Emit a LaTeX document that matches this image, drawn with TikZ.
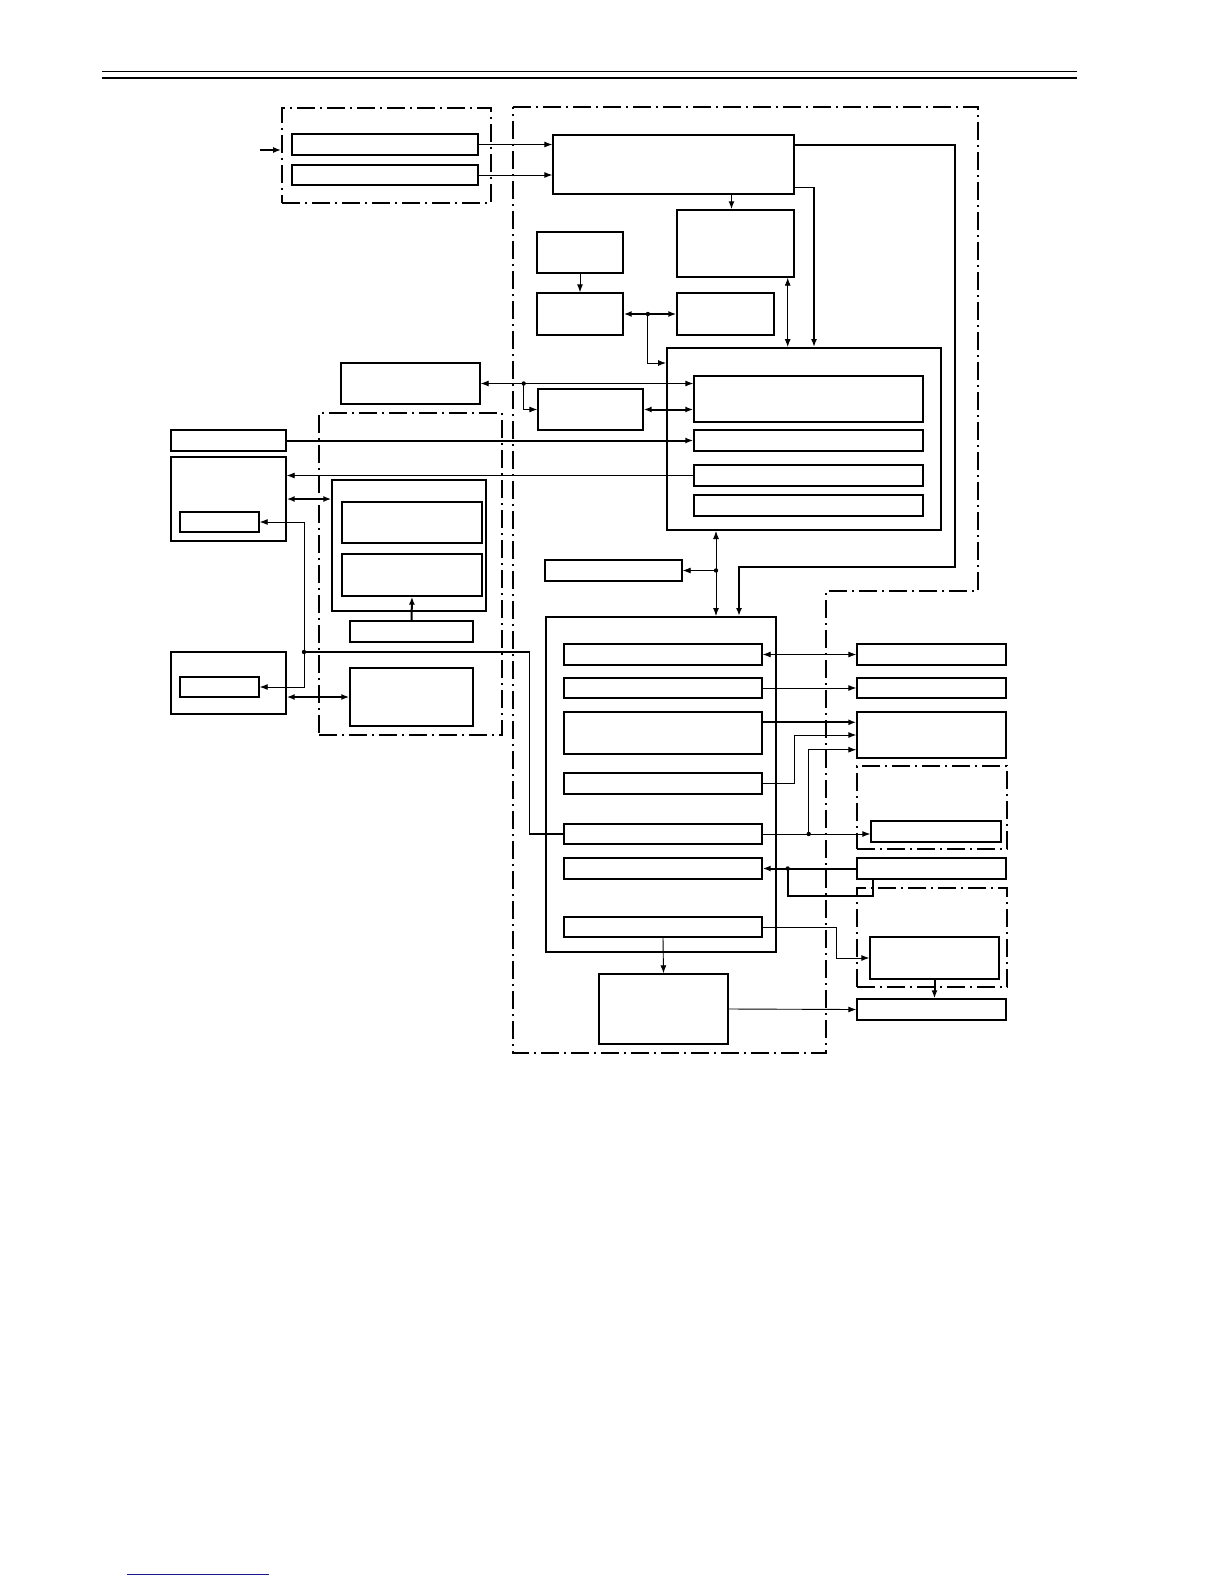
\documentclass[tikz,border=0pt]{standalone}
\usepackage{xcolor}
\usepackage{tikz}
\usetikzlibrary{arrows.meta, calc, fit}
\definecolor{linkblue}{RGB}{25,25,150}

\tikzset{
  blk/.style={draw, inner sep=0pt, line width=1.4pt},
  frame/.style={draw, inner sep=0pt, line width=2pt},
  dashdot/.style={line width=1.8pt, dash pattern=on 18pt off 5pt on 2pt off 5pt},
  grp/.style={draw, inner sep=0pt, dashdot},
  arr/.style={-{Latex[length=8pt,width=6pt]}, line width=0.9pt},
  dbl/.style={{Latex[length=8pt,width=6pt]}-{Latex[length=8pt,width=6pt]}, line width=0.9pt},
  heavy/.style={line width=2pt},
  medium/.style={line width=1.5pt}
}

\begin{document}
\begin{tikzpicture}[x=1pt, y=-1pt]
\useasboundingbox (0,0) rectangle (1224,1584);
% page rules
\draw[line width=1pt] (102,72) -- (1077,72);
\draw[line width=2.5pt] (102,78) -- (1077,78);
\draw[linkblue, line width=1pt] (127,1574) -- (269,1574);

% dash-dot regions
\draw[dashdot] (513,107) -- (978,107) -- (978,591) -- (826,591) -- (826,1053) -- (513,1053) -- cycle;
\node[grp, fit={(282,108) (491,203)}] (inbox) {};
\node[grp, fit={(319,413) (502,735)}] (midbox) {};
\node[grp, fit={(857,766) (1007,849)}] (sbox) {};
\node[grp, fit={(857,888) (1007,987)}] (tbox) {};

% blocks
\node[blk, fit={(292,134) (478,155)}] (a1) {};
\node[blk, fit={(292,165) (478,185)}] (a2) {};
\node[blk, fit={(553,135) (794,194)}] (b) {};
\node[blk, fit={(677,210) (794,277)}] (c) {};
\node[blk, fit={(537,232) (623,273)}] (d) {};
\node[blk, fit={(537,293) (623,335)}] (e) {};
\node[blk, fit={(677,293) (774,335)}] (f) {};
\node[frame, fit={(667,348) (941,530)}] (h) {};
\foreach \nm/\ya/\yb in {h1/376/422, h2/430/451, h3/465/486, h4/495/516}
  \node[blk, fit={(694,\ya) (923,\yb)}] (\nm) {};
\node[blk, fit={(341,363) (480,404)}] (g) {};
\node[blk, fit={(538,389) (643,430)}] (i) {};
\node[blk, fit={(171,430) (286,451)}] (j) {};
\node[blk, fit={(171,457) (286,541)}] (k) {};
\node[blk, fit={(180,512) (259,532)}] (k1) {};
\node[blk, fit={(332,480) (486,611)}] (l) {};
\node[blk, fit={(342,502) (482,543)}] (l1) {};
\node[blk, fit={(342,554) (482,596)}] (l2) {};
\node[blk, fit={(350,621) (473,642)}] (l3) {};
\node[blk, fit={(171,652) (286,714)}] (n) {};
\node[blk, fit={(180,677) (259,697)}] (n1) {};
\node[blk, fit={(350,668) (473,726)}] (o) {};
\node[blk, fit={(545,560) (682,581)}] (p) {};
\node[frame, fit={(546,617) (776,952)}] (m) {};
\foreach \nm/\ya/\yb in {m1/644/665, m2/678/698, m3/712/754, m4/773/794, m5/824/844, m6/858/879, m7/917/937}
  \node[blk, fit={(564,\ya) (762,\yb)}] (\nm) {};
\node[blk, fit={(599,974) (728,1044)}] (q) {};
\foreach \nm/\ya/\yb in {r1/644/665, r2/678/698, r3/712/758, r4/858/879, r5/999/1020}
  \node[blk, fit={(857,\ya) (1006,\yb)}] (\nm) {};
\node[blk, fit={(871,821) (1001,842)}] (s1) {};
\node[blk, fit={(870,937) (999,979)}] (t1) {};

% junctions
\coordinate (feed) at (260,150);
\coordinate (busr) at (955,567);
\coordinate (ef) at ($(e.east)!0.46!(f.west)$);
\coordinate (gi) at ([xshift=43pt]g.east);
\coordinate (kn) at (304,652);
\coordinate (hm) at ([xshift=55pt]m.north |- p.east);
\coordinate (ms) at ([xshift=46pt]m5.east);
\coordinate (rm) at ([xshift=25pt]m6.east);

% connectors, top
\draw[arr, heavy] (feed) -- (feed -| inbox.west);
\draw[arr] (a1.east) -- (a1.east -| b.west);
\draw[arr] (a2.east) -- (a2.east -| b.west);
\draw[arr, heavy] ([yshift=-11pt]b.north east) -| (busr) -| ([xshift=78pt]m.north);
\draw[arr, medium] ([yshift=7pt]b.south east) -| ([xshift=10pt]h.north);
\draw[arr, medium] ([xshift=-4pt]c.north |- b.south) -- ([xshift=-4pt]c.north);
\draw[arr] (d.south) -- (e.north);
\draw[dbl, heavy] (e.east) -- (f.west);
\draw[arr] (ef) |- ([yshift=-16pt]h.north west);
\draw[dbl] ([xshift=-7pt]c.south east) -- ([xshift=-7pt]c.south east |- h.north);

% connectors, middle
\draw[dbl] (g.east) -- (g.east -| h1.west);
\draw[arr] (gi) |- (i.west);
\draw[dbl, heavy] (i.east) -- (i.east -| h1.west);
\draw[arr, heavy] (j.east) -- (j.east -| h2.west);
\draw[arr] (h3.west) -- (h3.west -| k.east);
\draw[dbl, heavy] (k.east) -- (k.east -| l.west);
\draw[arr, heavy] (l3.north) -- (l2.south);
\draw[arr] (kn) |- (k1.east);
\draw[arr] (kn) |- (n1.east);
\draw[medium] (kn) -| ([xshift=-34pt]m5.west) -- (m5.west);
\draw[dbl, heavy] (o.west -| n.east) -- (o.west);
\draw[dbl] ([xshift=55pt]m.north |- h.south) -- ([xshift=55pt]m.north);
\draw[arr] (hm) -- (p.east);

% connectors, lower right
\draw[dbl] (m1.east) -- (r1.west);
\draw[arr] (m2.east) -- (r2.west);
\draw[arr, heavy] ([yshift=-11pt]m3.north east) -- ([yshift=-11pt]m3.north east -| r3.west);
\draw[arr] (m4.east) -- ([xshift=32pt]m4.east) |- (r3.west);
\draw[arr] (m5.east) -- (m5.east -| s1.west);
\draw[arr] (ms) |- ([yshift=9pt]r3.south west);
\draw[arr, heavy] (r4.west) -- (r4.west -| m6.east);
\draw[heavy] (rm) |- ([xshift=17pt,yshift=-16pt]r4.south west) -- ([xshift=17pt]r4.south west);
\draw[arr] (m7.east) -- ([xshift=74pt]m7.east) |- (t1.west);
\draw[arr, heavy] (t1.south) -- (t1.south |- r5.north);
\draw[arr] (m7.south) -- (q.north);
\draw[arr] (q.east) -- (r5.west);

% dots
\foreach \pt in {ef, gi, kn, hm, ms, rm}
  \fill (\pt) circle (2.2);
\end{tikzpicture}
\end{document}
